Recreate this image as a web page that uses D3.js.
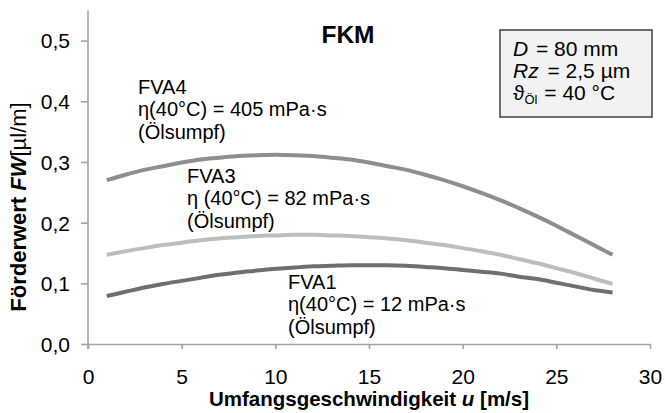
<!DOCTYPE html>
<html>
<head>
<meta charset="utf-8">
<script src="https://cdn.jsdelivr.net/npm/d3@7"></script>
<style>
  html, body { margin: 0; padding: 0; background: #fff; }
  svg { display: block; }
</style>
</head>
<body>
<svg id="chart" width="665" height="413"></svg>
<script>
// Circumferential speed u [m/s]
const speeds = [1,2,3,4,5,6,7,8,9,10,11,12,13,14,15,16,17,18,19,20,21,22,23,24,25,26,27,28];

// Delivery value FW [µl/m] per oil
const fva4 = [0.270,0.279,0.287,0.293,0.299,0.304,0.307,0.310,0.311,0.312,0.311,0.310,0.307,0.304,
              0.299,0.293,0.287,0.279,0.270,0.260,0.249,0.237,0.224,0.210,0.195,0.179,0.163,0.147];
const fva3 = [0.147,0.153,0.158,0.163,0.167,0.171,0.174,0.176,0.178,0.179,0.180,0.180,0.179,0.178,
              0.176,0.174,0.171,0.167,0.163,0.158,0.153,0.147,0.140,0.133,0.125,0.117,0.108,0.099];
const fva1 = [0.079,0.086,0.093,0.099,0.104,0.109,0.114,0.118,0.121,0.124,0.126,0.128,0.129,0.130,
              0.130,0.130,0.129,0.127,0.125,0.122,0.119,0.116,0.111,0.107,0.101,0.095,0.089,0.085];

const xTicks = [0,5,10,15,20,25,30];
const yTicks = [0,0.1,0.2,0.3,0.4,0.5];

const seriesNames = ["FVA4","FVA3","FVA1"];
const seriesValues = [fva4, fva3, fva1];
const seriesColors = ["#8e8e8e","#bdbdbd","#6f6f6f"];

const seriesLabels = [
  ["FVA4", "η(40°C) = 405 mPa·s", "(Ölsumpf)"],
  ["FVA3", "η (40°C) = 82 mPa·s", "(Ölsumpf)"],
  ["FVA1", "η(40°C) = 12 mPa·s", "(Ölsumpf)"]
];

const FONT = '"Liberation Sans", Arial, sans-serif';
const FS = 21;
const AXIS = "#a3a3a3";

const svg = d3.select("#chart");

const x = d3.scaleLinear().domain([0, 30]).range([88, 650]);
const y = d3.scaleLinear().domain([0, 0.55]).range([344, 10.3]);

function txt(g, px, py, opts = {}) {
  return g.append("text")
    .attr("x", px).attr("y", py)
    .attr("font-family", FONT)
    .attr("font-size", opts.size || FS)
    .attr("font-weight", opts.weight || "normal")
    .attr("text-anchor", opts.anchor || "start")
    .attr("fill", "#000");
}

// axes
const xAxis = d3.axisBottom(x).tickValues(xTicks).tickSize(5).tickSizeOuter(0)
  .tickFormat(d3.format("d"));
const gx = svg.append("g").attr("transform", `translate(0,${y(0)})`).call(xAxis);
gx.select(".domain").attr("stroke", AXIS).attr("stroke-width", 1.6);
gx.selectAll(".tick line").attr("stroke", AXIS).attr("stroke-width", 1.6);
gx.selectAll(".tick text")
  .attr("y", 40).attr("dy", 0)
  .attr("font-family", FONT).attr("font-size", FS).attr("fill", "#000");

const yFmt = d => d3.format(".1f")(d).replace(".", ",");
const yAxis = d3.axisLeft(y).tickValues(yTicks).tickSize(7).tickSizeOuter(0).tickFormat(yFmt);
const gy = svg.append("g").attr("transform", `translate(${x(0)},0)`).call(yAxis);
gy.select(".domain").attr("stroke", AXIS).attr("stroke-width", 1.6);
gy.selectAll(".tick line").attr("stroke", AXIS).attr("stroke-width", 1.6);
gy.selectAll(".tick text")
  .attr("x", -18).attr("dy", "0.35em")
  .attr("font-family", FONT).attr("font-size", FS).attr("fill", "#000");
// vertical axis line continues down through the zero tick
gy.select(".domain").attr("d", `M0,${y(0.55)}V${y(0) + 5}`);

// curves
const line = d3.line().x(d => x(d[0])).y(d => y(d[1])).curve(d3.curveMonotoneX);
seriesValues.forEach((vals, i) => {
  svg.append("path")
    .datum(speeds.map((u, k) => [u, vals[k]]))
    .attr("d", line)
    .attr("fill", "none")
    .attr("stroke", seriesColors[i])
    .attr("stroke-width", 4)
    .attr("stroke-linecap", "butt");
});

// series annotations: one multi-line text block per oil
const LABEL_FS = 20, LINE_GAP = 22.4;
const labelPos = [[138, 94], [187, 183], [288, 289]];
seriesLabels.forEach((lines, i) => {
  const t = txt(svg, labelPos[i][0], labelPos[i][1], { size: LABEL_FS });
  lines.forEach((s, k) => {
    t.append("tspan")
      .attr("x", labelPos[i][0])
      .attr("dy", k === 0 ? 0 : LINE_GAP)
      .text(s);
  });
});

// title
txt(svg, 348, 43, { size: 24.5, weight: "bold", anchor: "middle" }).text("FKM");

// parameter box
svg.append("rect")
  .attr("x", 500).attr("y", 30).attr("width", 152).attr("height", 87)
  .attr("fill", "#f2f2f2").attr("stroke", "#404040").attr("stroke-width", 1.5);

const l1 = txt(svg, 513, 56);
l1.append("tspan").attr("font-style", "italic").text("D");
l1.append("tspan").attr("dx", 2).text(" = 80 mm");
const l2 = txt(svg, 513, 78);
l2.append("tspan").attr("font-style", "italic").text("Rz");
l2.append("tspan").attr("dx", 3).text(" = 2,5 µm");
const l3 = txt(svg, 513, 100);
l3.append("tspan").text("ϑ");
l3.append("tspan").attr("font-size", 13).attr("dy", 4).text("Öl");
l3.append("tspan").attr("dy", -4).attr("dx", 1).text(" = 40 °C");

// axis titles
const xt = txt(svg, 369, 406, { size: 20.5, weight: "bold", anchor: "middle" });
xt.append("tspan").text("Umfangsgeschwindigkeit ");
xt.append("tspan").attr("font-style", "italic").text("u");
xt.append("tspan").text(" [m/s]");

const yt = svg.append("text")
  .attr("transform", "translate(26,207) rotate(-90)")
  .attr("font-family", FONT).attr("font-size", 22).attr("font-weight", "bold")
  .attr("text-anchor", "middle").attr("fill", "#000");
yt.append("tspan").text("Förderwert ");
yt.append("tspan").attr("font-style", "italic").text("FW");
yt.append("tspan").attr("font-weight", "normal").text("[µl/m]");
</script>
</body>
</html>
